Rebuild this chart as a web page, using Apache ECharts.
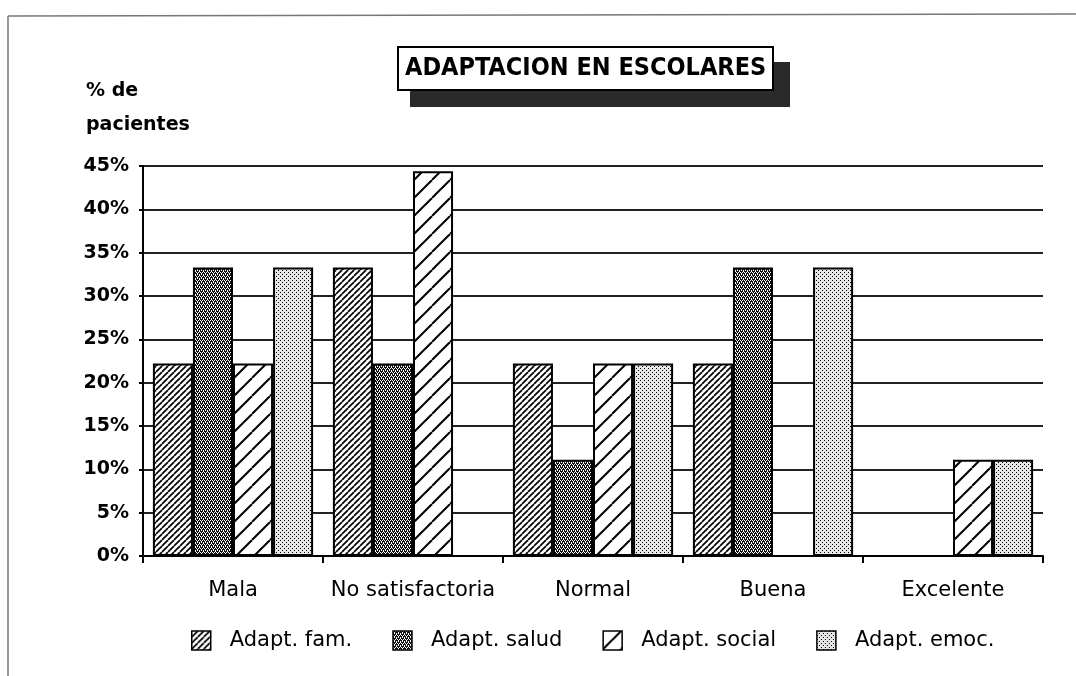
<!DOCTYPE html>
<html>
<head>
<meta charset="utf-8">
<script src="https://cdn.jsdelivr.net/npm/echarts@6/dist/echarts.min.js"></script>
<style>
html,body{margin:0;padding:0;background:#fff;}
#chart{width:1076px;height:676px;}
</style>
</head>
<body>
<div id="chart"></div>
<script>
const categories = ['Mala', 'No satisfactoria', 'Normal', 'Buena', 'Excelente'];
const seriesNames = ['Adapt. fam.', 'Adapt. salud', 'Adapt. social', 'Adapt. emoc.'];
const famValues = [22.2, 33.3, 22.2, 22.2, 0];
const saludValues = [33.3, 22.2, 11.1, 33.3, 0];
const socialValues = [22.2, 44.4, 22.2, 0, 11.1];
const emocValues = [33.3, 0, 22.2, 33.3, 11.1];
const yTicks = [0, 5, 10, 15, 20, 25, 30, 35, 40, 45];

function hatch(size, lw) {
  const c = document.createElement('canvas');
  c.width = size; c.height = size;
  const g = c.getContext('2d');
  g.fillStyle = '#fff'; g.fillRect(0, 0, size, size);
  g.strokeStyle = '#000'; g.lineWidth = lw;
  for (let k = -1; k <= 1; k++) {
    g.beginPath();
    g.moveTo(k * size, size);
    g.lineTo(k * size + size, 0);
    g.stroke();
  }
  return { image: c, repeat: 'repeat' };
}
function dots(bg, fg, pts) {
  const c = document.createElement('canvas');
  c.width = 4; c.height = 4;
  const g = c.getContext('2d');
  g.fillStyle = bg; g.fillRect(0, 0, 4, 4);
  g.fillStyle = fg;
  pts.forEach(p => g.fillRect(p[0], p[1], 1, 1));
  return { image: c, repeat: 'repeat' };
}
const famFill = hatch(6, 1.7);
const saludFill = dots('#111', '#fff', [[0,0],[2,0],[1,2],[3,2],[1,1],[3,3]]);
const socialFill = hatch(18, 2);
const emocFill = dots('#e6e6e6', '#000', [[0,0],[2,2]]);

const fills = [famFill, saludFill, socialFill, emocFill];
const values = [famValues, saludValues, socialValues, emocValues];

const chart = echarts.init(document.getElementById('chart'));
chart.setOption({
  backgroundColor: '#fff',
  animation: false,
  title: {
    text: 'ADAPTACION EN ESCOLARES',
    left: 398, top: 47,
    padding: [9, 7, 9, 7],
    backgroundColor: '#fff',
    borderColor: '#000',
    borderWidth: 2,
    textStyle: { fontFamily: 'DejaVu Sans Condensed', fontWeight: 'bold', fontSize: 25, color: '#000' },
    z: 10
  },
  graphic: [
    { type: 'rect', z: 1, shape: { x: 410, y: 62, width: 380, height: 45 }, style: { fill: '#2a2a2a' } },
    { type: 'line', z: 1, shape: { x1: 8, y1: 16, x2: 1076, y2: 14 }, style: { stroke: '#777', lineWidth: 1.5 } },
    { type: 'line', z: 1, shape: { x1: 8, y1: 16, x2: 8, y2: 676 }, style: { stroke: '#777', lineWidth: 1.5 } }
  ],
  legend: {
    bottom: 20,
    left: 186,
    icon: 'rect',
    itemWidth: 19, itemHeight: 19,
    itemGap: 40,
    itemStyle: { borderColor: '#000', borderWidth: 1.5 },
    textStyle: { fontFamily: 'DejaVu Sans', fontSize: 21, color: '#000', padding: [0, 0, 0, 14] },
    data: seriesNames
  },
  grid: { left: 143, right: 33, top: 166, bottom: 120 },
  xAxis: {
    type: 'category',
    data: categories,
    axisLine: { lineStyle: { color: '#000', width: 2 } },
    axisTick: { show: true, interval: 0, length: 7, lineStyle: { color: '#000', width: 2 } },
    axisLabel: { interval: 0, fontFamily: 'DejaVu Sans', fontSize: 21, color: '#000', margin: 24 }
  },
  yAxis: {
    type: 'value',
    min: 0, max: 45, interval: 5,
    name: '% de\npacientes',
    nameLocation: 'end',
    nameGap: 24,
    nameTextStyle: { fontFamily: 'DejaVu Sans', fontWeight: 'bold', fontSize: 19, color: '#000', align: 'left', verticalAlign: 'bottom', lineHeight: 34, padding: [0, 0, 0, -57] },
    axisLine: { show: true, lineStyle: { color: '#000', width: 2 } },
    axisTick: { show: true, length: 4, lineStyle: { color: '#000', width: 2 } },
    axisLabel: { fontFamily: 'DejaVu Sans', fontWeight: 'bold', fontSize: 19, color: '#000', margin: 14, formatter: v => yTicks.includes(v) ? v + '%' : '' },
    splitLine: { show: true, lineStyle: { color: '#222', width: 2 } }
  },
  series: seriesNames.map((n, i) => ({
    name: n,
    type: 'bar',
    data: values[i],
    barGap: '0%',
    barCategoryGap: '11%',
    itemStyle: { color: fills[i], borderColor: '#000', borderWidth: 2 }
  }))
});
</script>
</body>
</html>
